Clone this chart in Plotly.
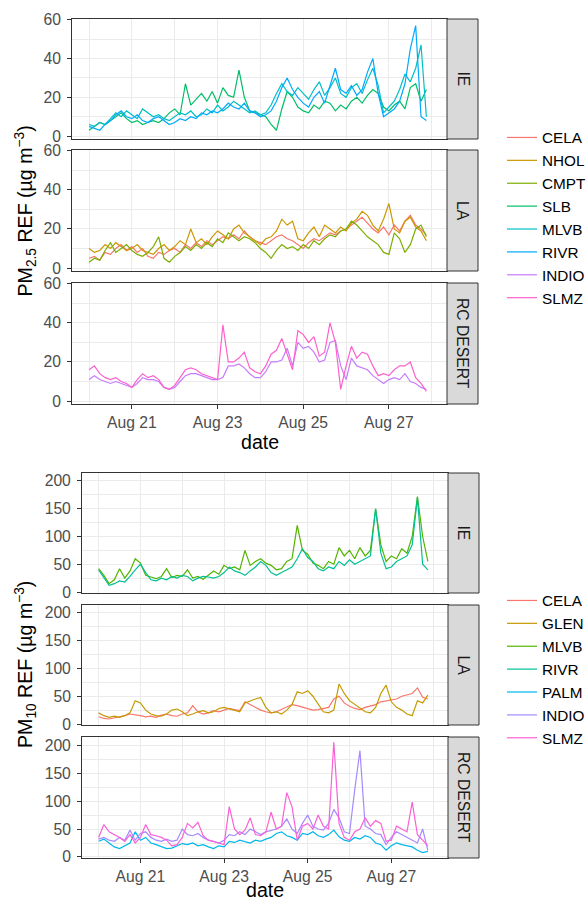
import plotly.graph_objects as go
import pandas as pd

W, H = 587, 903

# 3-hourly time stamps, Aug 20 00:00 -> Aug 27 21:00
times = pd.date_range("2020-08-20 00:00", periods=64, freq="3h")

# ---------------- PM2.5 ----------------
pm25_LA_CELA = [5, 6, 4, 8, 7, 10, 12, 9, 11, 8, 10, 6, 5, 8, 7, 9, 10, 8, 12, 10, 13, 11, 14, 12,
                14, 16, 15, 17, 15, 19, 16, 14, 13, 12, 14, 16, 17, 15, 14, 12, 10, 13, 15, 14, 16, 18, 17, 19,
                20, 22, 24, 26, 23, 20, 18, 21, 17, 22, 19, 24, 27, 22, 20, 17]
pm25_LA_NHOL = [10, 8, 9, 12, 10, 13, 11, 9, 10, 12, 9, 8, 7, 10, 12, 9, 11, 14, 12, 20, 13, 15, 12, 16,
                19, 17, 15, 20, 22, 18, 16, 14, 12, 15, 16, 19, 25, 22, 24, 15, 14, 18, 21, 16, 22, 20, 18, 21,
                19, 23, 25, 29, 27, 22, 19, 25, 33, 20, 18, 24, 26, 21, 19, 14]
pm25_LA_CMPT = [3, 5, 4, 9, 13, 8, 10, 12, 9, 7, 6, 8, 11, 16, 5, 3, 6, 8, 11, 9, 12, 10, 13, 11,
                15, 13, 18, 16, 14, 16, 15, 13, 10, 8, 5, 9, 12, 10, 11, 9, 12, 10, 14, 12, 15, 17, 16, 19,
                20, 24, 22, 19, 16, 14, 12, 8, 7, 18, 15, 8, 12, 20, 22, 16]
pm25_IE_SLB = [3, 5, 7, 6, 8, 10, 12, 9, 7, 8, 6, 7, 8, 7, 9, 12, 14, 11, 27, 16, 19, 22, 18, 23,
               17, 25, 21, 20, 34, 20, 13, 12, 11, 10, 6, 3, 14, 23, 20, 15, 13, 12, 16, 14, 18, 17, 13, 16,
               14, 18, 20, 17, 21, 24, 22, 15, 13, 16, 18, 14, 25, 27, 18, 24]
pm25_IE_MLVB = [6, 5, 7, 6, 9, 12, 10, 13, 11, 9, 14, 12, 10, 11, 9, 8, 10, 12, 11, 13, 10, 11, 14, 12,
                16, 13, 15, 18, 16, 14, 12, 13, 11, 12, 16, 22, 27, 23, 21, 25, 22, 19, 24, 28, 21, 25, 30, 22,
                20, 25, 27, 22, 29, 35, 26, 12, 15, 18, 24, 32, 28, 35, 47, 10]
pm25_IE_RIVR = [5, 4, 3, 6, 8, 11, 13, 10, 9, 11, 8, 7, 9, 10, 8, 6, 7, 9, 8, 10, 9, 12, 11, 13,
                12, 14, 17, 15, 14, 17, 13, 12, 10, 11, 13, 18, 25, 30, 24, 20, 17, 15, 20, 23, 17, 26, 35, 24,
                22, 26, 21, 24, 33, 40, 22, 10, 12, 14, 18, 27, 45, 57, 10, 8]
pm25_RC_INDIO = [11, 13, 11, 10, 9, 10, 9, 8, 7, 9, 12, 11, 11, 10, 7, 6, 7, 10, 13, 14, 14, 13, 12, 11,
                 11, 12, 18, 18, 19, 17, 14, 12, 12, 15, 20, 20, 21, 27, 18, 30, 27, 28, 25, 20, 21, 30, 31, 18,
                 11, 22, 18, 17, 16, 13, 11, 9, 11, 12, 11, 14, 10, 9, 7, 6]
pm25_RC_SLMZ = [16, 18, 14, 12, 11, 12, 10, 9, 7, 11, 14, 12, 13, 11, 7, 6, 8, 12, 16, 17, 16, 14, 13, 12,
                11, 39, 20, 20, 22, 25, 17, 15, 14, 18, 24, 26, 32, 24, 16, 36, 34, 30, 33, 23, 25, 40, 30, 6,
                18, 28, 22, 25, 24, 18, 13, 14, 13, 16, 18, 18, 20, 12, 9, 5]

# ---------------- PM10 ----------------
pm10_LA_CELA = [13, 10, 9, 11, 12, 15, 18, 17, 15, 13, 14, 12, 16, 18, 15, 14, 18, 20, 33, 22, 18, 20, 24, 22,
                25, 28, 26, 24, 40, 35, 30, 25, 22, 20, 22, 26, 30, 35, 33, 30, 27, 25, 26, 28, 30, 45, 50, 38,
                32, 28, 26, 30, 32, 35, 40, 42, 44, 45, 50, 52, 55, 65, 48, 45]
pm10_LA_GLEN = [20, 15, 12, 14, 12, 15, 20, 42, 38, 25, 18, 15, 14, 18, 25, 27, 22, 15, 18, 22, 24, 20, 22, 28,
                30, 27, 25, 22, 38, 42, 45, 48, 30, 20, 22, 18, 25, 35, 58, 55, 60, 50, 35, 22, 20, 25, 72, 55,
                42, 35, 28, 22, 20, 30, 55, 70, 40, 30, 25, 18, 15, 42, 38, 52]
pm10_IE_MLVB = [42, 30, 15, 22, 42, 25, 38, 60, 52, 30, 27, 24, 28, 42, 26, 30, 28, 40, 25, 28, 23, 30, 38, 32,
                48, 42, 45, 40, 75, 48, 55, 60, 52, 48, 40, 42, 55, 60, 120, 75, 68, 52, 48, 42, 55, 50, 80, 65,
                75, 60, 80, 65, 75, 150, 85, 55, 65, 60, 78, 70, 100, 172, 100, 55]
pm10_IE_RIVR = [40, 25, 12, 15, 20, 18, 28, 40, 50, 35, 22, 20, 25, 22, 28, 25, 30, 28, 20, 25, 28, 27, 25, 28,
                35, 45, 38, 35, 30, 38, 45, 55, 48, 35, 30, 35, 40, 45, 60, 78, 62, 55, 42, 38, 45, 42, 55, 48,
                58, 50, 55, 60, 65, 150, 70, 42, 45, 55, 60, 65, 85, 170, 50, 40]
pm10_RC_PALM = [28, 32, 25, 18, 15, 20, 25, 45, 30, 35, 25, 22, 18, 15, 16, 20, 24, 22, 25, 20, 22, 18, 15, 20,
                18, 28, 26, 30, 28, 25, 30, 28, 32, 35, 42, 45, 38, 35, 30, 42, 40, 45, 38, 35, 40, 48, 36, 30,
                28, 35, 32, 38, 35, 25, 22, 12, 20, 25, 22, 20, 18, 12, 8, 10]
pm10_RC_INDIO = [32, 35, 30, 28, 35, 30, 48, 30, 42, 45, 35, 30, 28, 32, 28, 30, 50, 40, 38, 42, 35, 30, 28, 25,
                 30, 40, 38, 45, 40, 50, 45, 40, 45, 48, 50, 55, 68, 50, 42, 60, 75, 55, 50, 48, 60, 85, 70, 45,
                 42, 120, 190, 55, 50, 42, 40, 22, 35, 45, 40, 35, 30, 25, 50, 12]
pm10_RC_SLMZ = [35, 58, 45, 40, 35, 28, 40, 25, 35, 58, 40, 38, 35, 30, 20, 22, 35, 60, 52, 62, 38, 30, 28, 25,
                22, 90, 50, 40, 48, 70, 40, 38, 45, 80, 50, 55, 115, 90, 30, 55, 60, 50, 75, 55, 50, 205, 60, 35,
                30, 45, 50, 70, 55, 65, 60, 28, 30, 55, 50, 45, 98, 40, 30, 20]

pm25_colors = {"CELA": "#F8766D", "NHOL": "#CD9600", "CMPT": "#7CAE00", "SLB": "#00BE67",
               "MLVB": "#00BFC4", "RIVR": "#00A9FF", "INDIO": "#C77CFF", "SLMZ": "#FF61CC"}
pm10_colors = {"CELA": "#F8766D", "GLEN": "#C49A00", "MLVB": "#53B400", "RIVR": "#00C094",
               "PALM": "#00B6EB", "INDIO": "#A58AFF", "SLMZ": "#FB61D7"}

x_major = ["2020-08-21", "2020-08-23", "2020-08-25", "2020-08-27"]
x_major_text = ["Aug 21", "Aug 23", "Aug 25", "Aug 27"]
x_minor = ["2020-08-20", "2020-08-22", "2020-08-24", "2020-08-26", "2020-08-28"]
x_range = ["2020-08-19 14:27", "2020-08-28 08:33"]

FONT = "Liberation Sans, Arial, sans-serif"
SMALL = 15.7
LEG = 15.3
BIG = 19.6

fig = go.Figure()

# panel index: 1 IE, 2 LA, 3 RC (PM2.5); 4 IE, 5 LA, 6 RC (PM10)
def add(name, vals, color, n, legend):
    fig.add_trace(go.Scatter(x=times, y=vals, mode="lines", name=name,
                             line=dict(color=color, width=1.2),
                             xaxis="x" if n == 1 else f"x{n}",
                             yaxis="y" if n == 1 else f"y{n}",
                             legend=legend))

add("CELA", pm25_LA_CELA, pm25_colors["CELA"], 2, "legend")
add("NHOL", pm25_LA_NHOL, pm25_colors["NHOL"], 2, "legend")
add("CMPT", pm25_LA_CMPT, pm25_colors["CMPT"], 2, "legend")
add("SLB", pm25_IE_SLB, pm25_colors["SLB"], 1, "legend")
add("MLVB", pm25_IE_MLVB, pm25_colors["MLVB"], 1, "legend")
add("RIVR", pm25_IE_RIVR, pm25_colors["RIVR"], 1, "legend")
add("INDIO", pm25_RC_INDIO, pm25_colors["INDIO"], 3, "legend")
add("SLMZ", pm25_RC_SLMZ, pm25_colors["SLMZ"], 3, "legend")

add("CELA", pm10_LA_CELA, pm10_colors["CELA"], 5, "legend2")
add("GLEN", pm10_LA_GLEN, pm10_colors["GLEN"], 5, "legend2")
add("MLVB", pm10_IE_MLVB, pm10_colors["MLVB"], 4, "legend2")
add("RIVR", pm10_IE_RIVR, pm10_colors["RIVR"], 4, "legend2")
add("PALM", pm10_RC_PALM, pm10_colors["PALM"], 6, "legend2")
add("INDIO", pm10_RC_INDIO, pm10_colors["INDIO"], 6, "legend2")
add("SLMZ", pm10_RC_SLMZ, pm10_colors["SLMZ"], 6, "legend2")

def px_x(a, b):
    return [a / W, b / W]

def px_y(top, bottom):
    return [1 - bottom / H, 1 - top / H]

panels = [
    (1, px_x(72, 447), px_y(19, 139), "top", False, "IE"),
    (2, px_x(72, 447), px_y(150, 271), "top", False, "LA"),
    (3, px_x(72, 447), px_y(283, 404), "top", True, "RC DESERT"),
    (4, px_x(82, 448), px_y(473, 593), "bot", False, "IE"),
    (5, px_x(82, 448), px_y(605, 725), "bot", False, "LA"),
    (6, px_x(82, 448), px_y(737, 858), "bot", True, "RC DESERT"),
]

layout = {}
shapes = []
annotations = []
for n, xd, yd, chart, labels, strip in panels:
    xk = "xaxis" if n == 1 else f"xaxis{n}"
    yk = "yaxis" if n == 1 else f"yaxis{n}"
    anchor_y = "y" if n == 1 else f"y{n}"
    anchor_x = "x" if n == 1 else f"x{n}"
    layout[xk] = dict(
        domain=xd, anchor=anchor_y, type="date", range=x_range, automargin=False,
        tickmode="array", tickvals=x_major, ticktext=x_major_text,
        showticklabels=labels, ticks="outside" if labels else "",
        ticklen=4, tickwidth=1, tickcolor="#333333",
        tickfont=dict(family=FONT, size=SMALL, color="#4D4D4D"),
        showgrid=True, gridcolor="#EBEBEB", gridwidth=1,
        minor=dict(tickvals=x_minor, showgrid=True, gridcolor="#EBEBEB", gridwidth=0.6, ticks=""),
        showline=True, mirror=True, linecolor="#333333", linewidth=1, zeroline=False,
    )
    if chart == "top":
        yr, yv, ym = [-1.5, 60.4], [0, 20, 40, 60], [10, 30, 50]
    else:
        yr, yv, ym = [-1.8, 214.4], [0, 50, 100, 150, 200], [25, 75, 125, 175]
    layout[yk] = dict(
        domain=yd, anchor=anchor_x, range=yr, tickmode="array", tickvals=yv, automargin=False,
        ticks="outside", ticklen=4, tickwidth=1, tickcolor="#333333", ticklabelstandoff=3,
        tickfont=dict(family=FONT, size=SMALL, color="#4D4D4D"),
        showgrid=True, gridcolor="#EBEBEB", gridwidth=1,
        minor=dict(tickvals=ym, showgrid=True, gridcolor="#EBEBEB", gridwidth=0.6, ticks=""),
        showline=True, mirror=True, linecolor="#333333", linewidth=1, zeroline=False,
    )
    sx0 = xd[1]
    sx1 = xd[1] + 31 / W
    shapes.append(dict(type="rect", xref="paper", yref="paper", x0=sx0, x1=sx1, y0=yd[0], y1=yd[1],
                       fillcolor="#D9D9D9", line=dict(color="#333333", width=1), layer="above"))
    annotations.append(dict(xref="paper", yref="paper", x=(sx0 + sx1) / 2, y=(yd[0] + yd[1]) / 2,
                            xanchor="center", yanchor="middle",
                            text=strip, textangle=90, showarrow=False,
                            font=dict(family=FONT, size=SMALL, color="#1A1A1A")))

annotations += [
    dict(xref="paper", yref="paper", x=25 / W, y=1 - 211.5 / H, textangle=-90, showarrow=False,
         xanchor="center", yanchor="middle",
         text="PM<sub>2.5</sub> REF (µg m<sup>−3</sup>)", font=dict(family=FONT, size=BIG, color="black")),
    dict(xref="paper", yref="paper", x=25 / W, y=1 - 665 / H, textangle=-90, showarrow=False,
         xanchor="center", yanchor="middle",
         text="PM<sub>10</sub> REF (µg m<sup>−3</sup>)", font=dict(family=FONT, size=BIG, color="black")),
    dict(xref="paper", yref="paper", x=259.5 / W, y=1 - 442 / H, showarrow=False,
         xanchor="center", yanchor="middle",
         text="date", font=dict(family=FONT, size=BIG, color="black")),
    dict(xref="paper", yref="paper", x=265 / W, y=1 - 890 / H, showarrow=False,
         xanchor="center", yanchor="middle",
         text="date", font=dict(family=FONT, size=BIG, color="black")),
]

legend_style = dict(xanchor="left", yanchor="top", bgcolor="rgba(0,0,0,0)", borderwidth=0,
                    font=dict(family=FONT, size=LEG, color="black"), traceorder="normal",
                    tracegroupgap=0)

fig.update_layout(
    width=W, height=H, margin=dict(l=0, r=0, t=0, b=0, autoexpand=False),
    paper_bgcolor="white", plot_bgcolor="white",
    shapes=shapes, annotations=annotations,
    legend=dict(x=502 / W, y=1 - 121 / H, **legend_style),
    legend2=dict(x=502 / W, y=1 - 584 / H, **legend_style),
    **layout,
)

fig.write_html("out.html")
